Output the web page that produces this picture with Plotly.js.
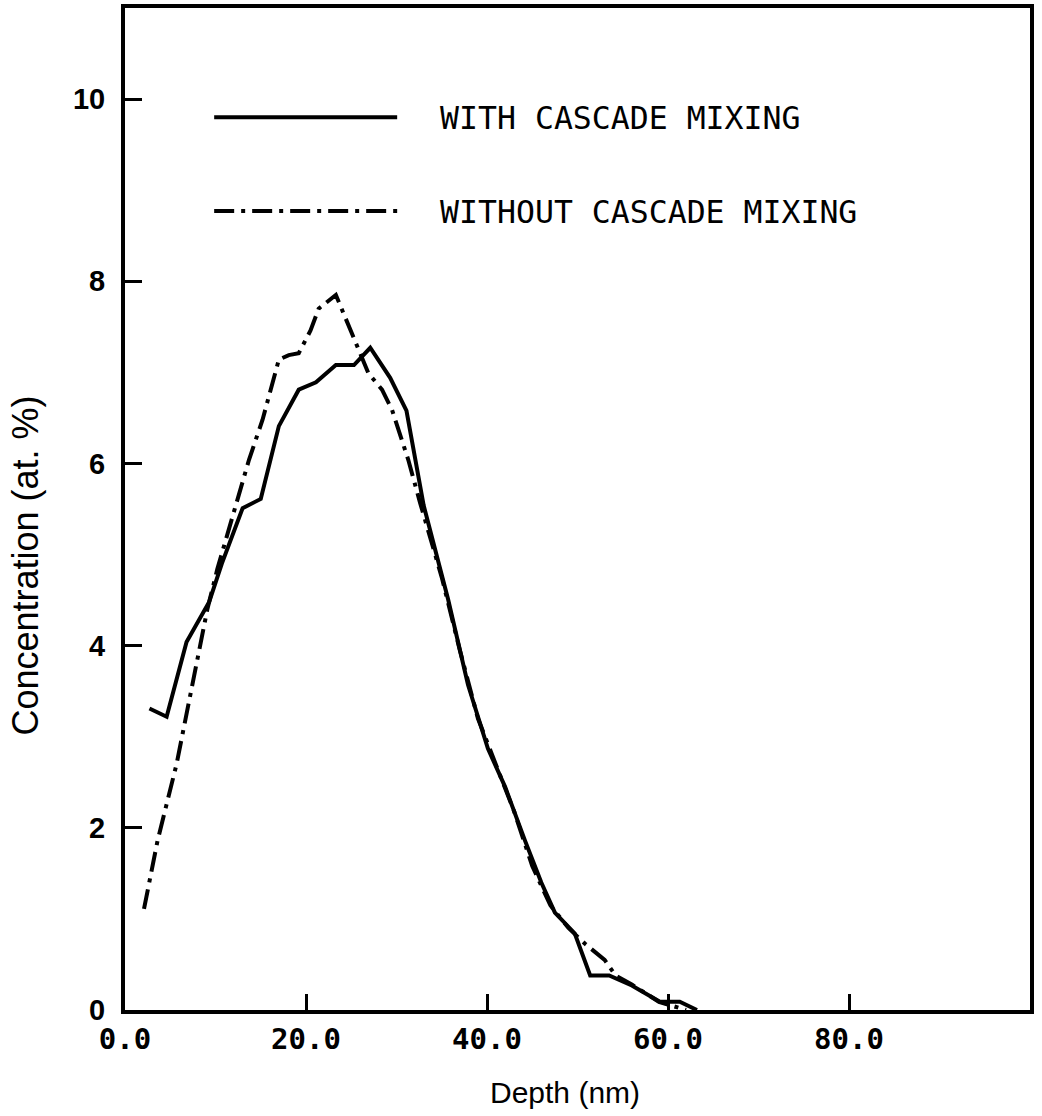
<!DOCTYPE html>
<html>
<head>
<meta charset="utf-8">
<script src="https://cdn.plot.ly/plotly-3.0.1.min.js"></script>
<style>
  html, body { margin: 0; padding: 0; background: #fff; }
  #chart { width: 1042px; height: 1116px; }
</style>
</head>
<body>
<div id="chart"></div>
<script>
// Depth (nm) and concentration (at. %)
const withDepth = [2.7, 4.6, 6.8, 9.3, 10.7, 13.0, 15.0, 17.0, 19.2, 21.1, 23.3, 25.3, 27.1, 29.3, 31.1, 33.0, 35.7, 37.9, 40.1, 42.0, 44.2, 46.0, 47.5, 49.7, 51.4, 53.5, 56.0, 59.1, 61.3, 63.2];
const withConc  = [3.31, 3.22, 4.04, 4.48, 4.90, 5.51, 5.61, 6.41, 6.81, 6.89, 7.08, 7.08, 7.27, 6.94, 6.58, 5.54, 4.51, 3.57, 2.87, 2.45, 1.86, 1.40, 1.07, 0.84, 0.38, 0.38, 0.27, 0.09, 0.09, 0.00];

const withoutDepth = [2.1, 3.6, 5.7, 6.6, 8.2, 9.1, 10.2, 12.3, 13.7, 15.2, 17.0, 18.1, 19.2, 20.5, 21.4, 23.3, 25.1, 26.9, 28.4, 29.5, 31.3, 32.6, 35.0, 37.0, 39.0, 41.0, 43.0, 45.0, 47.0, 49.0, 50.8, 53.0, 54.2, 56.0, 59.0, 62.0];
const withoutConc  = [1.11, 1.86, 2.70, 3.14, 3.93, 4.40, 4.84, 5.54, 6.04, 6.48, 7.14, 7.19, 7.21, 7.46, 7.70, 7.85, 7.43, 6.99, 6.81, 6.59, 6.04, 5.57, 4.75, 3.95, 3.20, 2.68, 2.18, 1.58, 1.15, 0.90, 0.73, 0.55, 0.38, 0.28, 0.09, 0.00];

const seriesNames = ["WITH CASCADE MIXING", "WITHOUT CASCADE MIXING"];
const xTitle = "Depth (nm)";
const yTitle = "Concentration (at. %)";
const xTickVals = [0, 20, 40, 60, 80];
const xTickText = ["0.0", "20.0", "40.0", "60.0", "80.0"];
const yTickVals = [0, 2, 4, 6, 8, 10];
const yTickText = ["0", "2", "4", "6", "8", "10"];

const pad = "\u00a0\u00a0";

const traces = [
  {
    x: withDepth, y: withConc, type: "scatter", mode: "lines",
    name: pad + seriesNames[0], legendgroup: "a",
    line: { color: "#000", width: 4, dash: "solid" }
  },
  {
    x: withoutDepth, y: withoutConc, type: "scatter", mode: "lines",
    name: pad + seriesNames[1], legendgroup: "b",
    line: { color: "#000", width: 4, dash: "20px,7px,4px,7px" }
  }
];

const titleFont = { family: "Liberation Sans, Arial", color: "#000" };

const layout = {
  width: 1042, height: 1116,
  margin: { l: 125, r: 12, t: 8, b: 106 },
  paper_bgcolor: "#fff", plot_bgcolor: "#fff",
  showlegend: true,
  legend: {
    x: 0.093, y: 0.918, xanchor: "left", yanchor: "top",
    bgcolor: "rgba(0,0,0,0)", borderwidth: 0,
    itemwidth: 183, tracegroupgap: 50, traceorder: "grouped",
    font: { family: "DejaVu Sans Mono", size: 31.5, color: "#000" }
  },
  xaxis: {
    range: [0, 100], showgrid: false, zeroline: false,
    showline: true, linecolor: "#000", linewidth: 4, mirror: true,
    ticks: "inside", ticklen: 16, tickwidth: 3, tickcolor: "#000",
    tickvals: xTickVals, ticktext: xTickText,
    tickfont: { family: "DejaVu Sans Mono", size: 29, color: "#000", weight: "bold" }
  },
  yaxis: {
    range: [0, 11], showgrid: false, zeroline: false,
    showline: true, linecolor: "#000", linewidth: 4, mirror: true,
    ticks: "inside", ticklen: 17, tickwidth: 3, tickcolor: "#000",
    tickvals: yTickVals, ticktext: yTickText,
    ticklabelstandoff: 10,
    tickfont: { family: "Liberation Sans", size: 29, color: "#000", weight: "bold" }
  },
  annotations: [
    {
      text: xTitle, xref: "paper", yref: "paper", x: 0.486, y: -0.082,
      xanchor: "center", yanchor: "middle", showarrow: false,
      font: Object.assign({ size: 30 }, titleFont)
    },
    {
      text: yTitle, xref: "paper", yref: "paper", x: -0.11, y: 0.444,
      xanchor: "center", yanchor: "middle", showarrow: false, textangle: -90,
      font: Object.assign({ size: 36 }, titleFont)
    }
  ]
};

Plotly.newPlot("chart", traces, layout, { staticPlot: true, displayModeBar: false });
</script>
</body>
</html>
